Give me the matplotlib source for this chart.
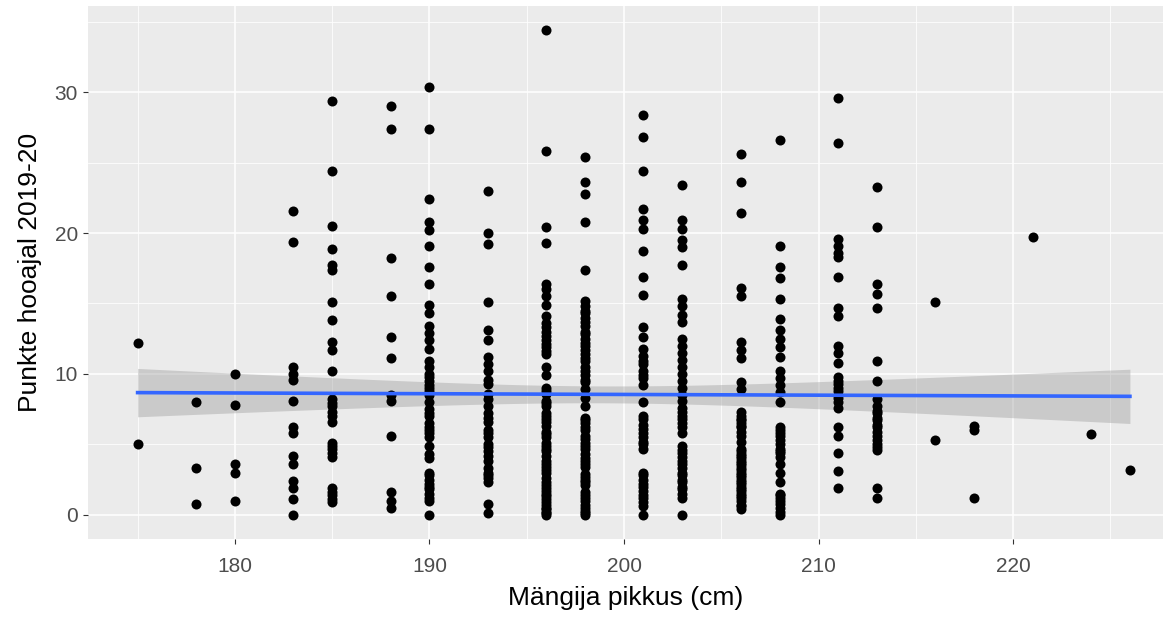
import numpy as np
import matplotlib
matplotlib.use("Agg")
import matplotlib.pyplot as plt
from matplotlib.ticker import MultipleLocator

plt.rcParams['font.family'] = ['Liberation Sans', 'DejaVu Sans']

# heights (cm) and the points per height (season 2019-20)
h175 = [12.2, 5.0]
h178 = [8.0, 3.3, 0.8]
h180 = [10.0, 7.8, 3.6, 3.0, 1.0]
h183 = [21.6, 19.4, 10.5, 10.0, 9.6, 8.1, 6.2, 5.8, 4.2, 3.6, 2.4, 1.9, 1.1, 0.0]
h185 = [29.4, 24.4, 20.5, 18.9, 17.7, 17.4, 15.1, 13.8, 12.3, 11.7, 10.2, 8.2, 7.9, 7.7, 7.3,
        7.0, 6.6, 5.1, 4.9, 4.7, 4.4, 4.1, 1.9, 1.6, 1.4, 1.1, 0.9]
h188 = [29.0, 27.4, 18.2, 15.5, 12.6, 11.1, 8.5, 8.1, 5.6, 1.6, 1.0, 0.5]
h190 = [30.4, 27.4, 22.4, 20.8, 20.2, 19.1, 17.6, 16.4, 14.9, 14.3, 13.4, 12.9, 12.4, 11.8,
        10.9, 10.5, 10.0, 9.8, 9.5, 9.2, 9.0, 8.8, 8.5, 8.0, 7.5, 7.2, 7.0, 6.5, 6.2, 6.0,
        5.8, 5.5, 4.9, 4.3, 4.0, 3.0, 2.8, 2.5, 2.2, 2.0, 1.8, 1.5, 1.2, 1.0, 0.0]
h193 = [23.0, 20.0, 19.2, 15.1, 13.1, 12.4, 11.2, 10.7, 10.2, 9.6, 9.3, 8.6, 8.2, 7.7, 7.2,
        6.9, 6.6, 6.0, 5.8, 5.5, 5.0, 4.8, 4.5, 4.2, 3.8, 3.3, 3.0, 2.8, 2.6, 2.3, 0.8, 0.1]
h196 = [34.4, 25.8, 20.4, 19.3, 16.4, 16.0, 15.5, 14.9, 14.1, 13.6, 13.3, 13.0, 12.7, 12.4,
        12.1, 11.9, 11.6, 11.4, 10.5, 9.9, 9.0, 8.8, 8.6, 8.1, 7.9, 7.7, 7.2, 7.0, 6.8, 6.6,
        6.3, 5.9, 5.7, 5.5, 5.1, 4.9, 4.7, 4.5, 4.2, 3.8, 3.6, 3.4, 3.2, 3.0, 2.6, 2.3, 2.1,
        1.9, 1.7, 1.5, 1.3, 1.1, 0.9, 0.7, 0.5, 0.4, 0.2, 0.1, 0.0]
h198 = [25.4, 23.6, 22.8, 20.8, 17.4, 15.2, 14.8, 14.5, 14.3, 14.0, 13.7, 13.4, 13.0, 12.8,
        12.5, 12.2, 12.0, 11.7, 11.4, 11.1, 10.9, 10.5, 10.2, 9.9, 9.6, 9.4, 8.9, 8.3, 7.7,
        6.9, 6.7, 6.5, 6.2, 6.0, 5.6, 5.4, 5.1, 4.9, 4.7, 4.3, 4.0, 3.8, 3.6, 3.4, 2.9, 2.7,
        2.5, 2.3, 2.1, 1.6, 1.4, 1.2, 1.0, 0.7, 0.5, 0.3, 0.1, 0.0]
h201 = [28.4, 26.8, 24.4, 21.7, 20.9, 20.3, 18.7, 16.9, 15.6, 13.3, 12.6, 11.8, 11.3, 10.9,
        10.7, 10.2, 9.9, 9.7, 9.2, 8.0, 7.0, 6.8, 6.4, 6.1, 5.8, 5.5, 5.2, 5.0, 4.7, 3.0,
        2.8, 2.5, 2.2, 2.0, 1.7, 1.4, 1.2, 0.9, 0.6, 0.0]
h203 = [23.4, 20.9, 20.3, 19.5, 19.0, 17.7, 15.3, 14.8, 14.2, 13.7, 12.5, 12.0, 11.5, 11.0,
        10.5, 10.0, 9.5, 9.0, 8.5, 8.1, 7.6, 7.3, 7.0, 6.8, 6.5, 6.2, 5.8, 4.9, 4.6, 4.4,
        4.1, 3.8, 3.6, 3.3, 3.0, 2.8, 2.5, 2.3, 2.0, 1.8, 1.5, 1.2, 0.0]
h206 = [25.6, 23.6, 21.4, 16.1, 15.5, 12.3, 11.7, 11.1, 9.4, 8.9, 7.3, 7.0, 6.8, 6.7, 6.5,
        6.3, 6.2, 5.9, 5.6, 5.2, 4.7, 4.5, 4.3, 4.2, 4.0, 3.8, 3.7, 3.5, 3.3, 3.2, 3.0, 2.8,
        2.7, 2.5, 2.3, 2.2, 2.0, 1.8, 1.7, 1.5, 1.3, 1.2, 1.0, 0.7, 0.6, 0.4]
h208 = [26.6, 19.1, 17.6, 16.8, 15.3, 13.9, 13.1, 12.5, 11.9, 11.2, 10.2, 9.7, 9.2, 8.7, 8.0,
        6.2, 6.0, 5.8, 5.6, 5.3, 5.0, 4.7, 4.5, 4.4, 4.1, 3.6, 3.0, 2.3, 1.5, 1.4, 1.2, 1.0,
        0.8, 0.5, 0.2, 0.0]
h211 = [29.6, 26.4, 19.6, 19.1, 18.6, 18.3, 16.9, 14.7, 14.1, 12.0, 11.5, 10.8, 9.8, 9.5,
        9.3, 9.0, 8.8, 8.5, 8.3, 8.0, 7.6, 6.2, 5.6, 4.4, 3.1, 1.9]
h213 = [23.3, 20.4, 16.4, 15.7, 14.7, 10.9, 9.5, 8.2, 7.7, 7.4, 7.2, 6.9, 6.7, 6.4, 6.2,
        5.9, 5.6, 5.3, 5.0, 4.8, 4.6, 1.9, 1.2]
h216 = [15.1, 5.3]
h218 = [6.3, 6.0, 1.2]
h221 = [19.7]
h224 = [5.7]
h226 = [3.2]

heights = [175, 178, 180, 183, 185, 188, 190, 193, 196, 198, 201, 203, 206, 208, 211, 213,
           216, 218, 221, 224, 226]
points = [h175, h178, h180, h183, h185, h188, h190, h193, h196, h198, h201, h203, h206, h208,
          h211, h213, h216, h218, h221, h224, h226]

x_ticks = [180, 190, 200, 210, 220]
y_ticks = [0, 10, 20, 30]
x_label = "Mängija pikkus (cm)"
y_label = "Punkte hooajal 2019-20"

x = np.concatenate([[h] * len(p) for h, p in zip(heights, points)]).astype(float)
y = np.concatenate(points).astype(float)

W, H = 1171, 617
fig = plt.figure(figsize=(W / 100, H / 100), dpi=100)
left, right, top, bottom = 88, 1163, 6, 539
pw, ph = right - left, bottom - top
ax = fig.add_axes([left / W, (H - bottom) / H, pw / W, ph / H])

ax.set_facecolor('#EBEBEB')
for s in ax.spines.values():
    s.set_visible(False)

xmin, xmax = x.min(), x.max()
ymin, ymax = y.min(), y.max()
ax.set_xlim(xmin - 0.05 * (xmax - xmin), 227.7)
ax.set_ylim(ymin - 0.05 * (ymax - ymin), ymax + 0.05 * (ymax - ymin))

ax.xaxis.set_minor_locator(MultipleLocator(5))
ax.yaxis.set_minor_locator(MultipleLocator(5))
ax.set_xticks(x_ticks)
ax.set_yticks(y_ticks)
ax.grid(which='major', color='white', linewidth=1.1)
ax.grid(which='minor', color='white', linewidth=0.55)
ax.set_axisbelow(True)
ax.tick_params(which='major', length=3.7, width=0.8, color='#333333', labelcolor='#4D4D4D',
               labelsize=15)
ax.tick_params(axis='x', which='major', pad=9)
ax.tick_params(axis='y', which='major', pad=3.5)
ax.tick_params(which='minor', length=0)

# linear model smooth with 95% CI
n = len(x)
b1, b0 = np.polyfit(x, y, 1)
resid = y - (b0 + b1 * x)
s = np.sqrt(np.sum(resid ** 2) / (n - 2))
xbar = x.mean()
sxx = np.sum((x - xbar) ** 2)
xs = np.linspace(xmin, xmax, 80)
yhat = b0 + b1 * xs
se = s * np.sqrt(1 / n + (xs - xbar) ** 2 / sxx)
tcrit = 1.965
ax.fill_between(xs, yhat - tcrit * se, yhat + tcrit * se, color='#999999', alpha=0.4,
                linewidth=0, zorder=2)

ax.scatter(x, y, s=52, color='black', linewidths=0, zorder=3)
ax.plot(xs, yhat, color='#3366FF', linewidth=2.6, zorder=4)

ax.set_xlabel(x_label, fontsize=19, color='black', va='center')
ax.xaxis.set_label_coords(0.5, (bottom - 598) / ph)
ax.set_ylabel(y_label, fontsize=19, color='black', va='center')
ax.yaxis.set_label_coords((30 - left) / pw, 0.5)
ax.yaxis.label.set_y(1 - (272 - top) / ph)

fig.savefig('out.png', dpi=100, facecolor='white')
